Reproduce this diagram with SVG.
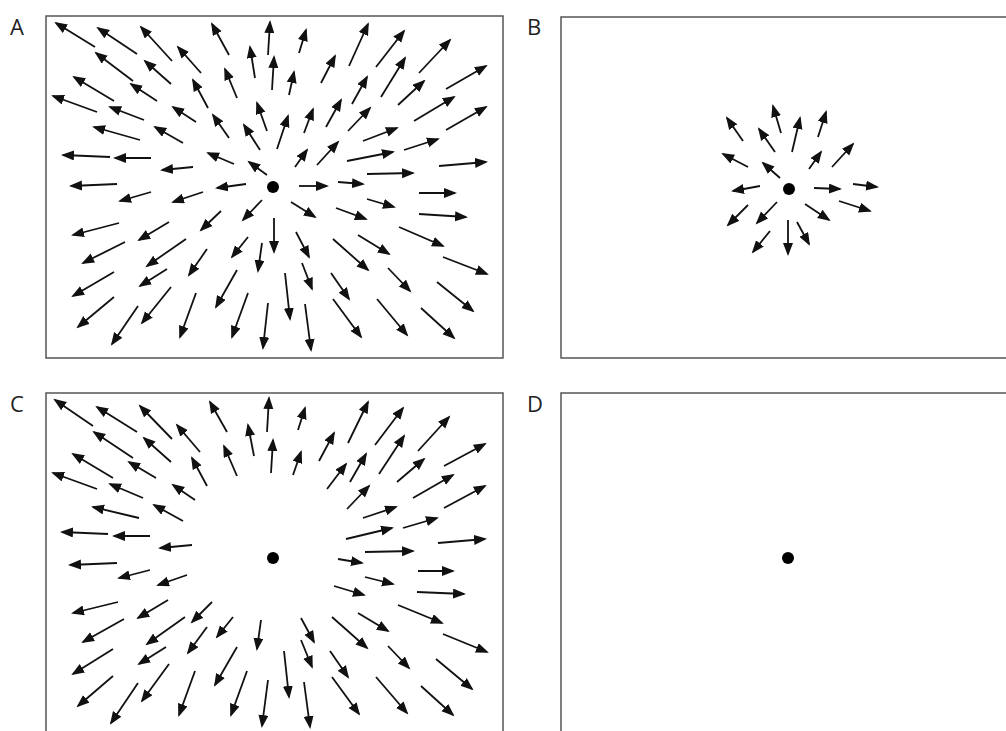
<svg xmlns="http://www.w3.org/2000/svg" width="1006" height="731" viewBox="0 0 1006 731">
<defs>
<marker id="ah" markerUnits="userSpaceOnUse" markerWidth="14" markerHeight="11" refX="11" refY="5" orient="auto">
<path d="M0,0 L13,5 L0,10 Z" fill="#111"/>
</marker>
<style>
.fr{fill:none;stroke:#555;stroke-width:1.5}
.lb{font-family:"Open Sans","Liberation Sans",sans-serif;font-size:22px;fill:#222}
.ar line{stroke:#111;stroke-width:1.8;marker-end:url(#ah)}
.dot{fill:#000}
</style>
</defs>
<rect width="1006" height="731" fill="#fff"/>
<g id="panelA">
<text class="lb" x="10" y="35">A</text>
<rect class="fr" x="46" y="16" width="457" height="342"/>
<circle class="dot" cx="273" cy="187" r="6"/>
<g class="ar" id="arrowsA">
<line x1="95" y1="47" x2="56" y2="23"/><line x1="137" y1="54" x2="98" y2="28"/><line x1="172" y1="61" x2="141" y2="27"/><line x1="229" y1="55" x2="212" y2="24"/><line x1="268" y1="55" x2="270" y2="22"/><line x1="255" y1="78" x2="250" y2="47"/><line x1="272" y1="90" x2="274" y2="57"/><line x1="201" y1="73" x2="178" y2="47"/><line x1="133" y1="81" x2="96" y2="53"/><line x1="171" y1="84" x2="145" y2="61"/><line x1="237" y1="98" x2="225" y2="69"/><line x1="114" y1="101" x2="74" y2="77"/><line x1="157" y1="101" x2="131" y2="84"/><line x1="208" y1="108" x2="193" y2="80"/><line x1="97" y1="112" x2="53" y2="96"/><line x1="144" y1="120" x2="110" y2="107"/><line x1="196" y1="122" x2="173" y2="107"/><line x1="267" y1="131" x2="257" y2="103"/><line x1="229" y1="138" x2="213" y2="115"/><line x1="140" y1="140" x2="94" y2="127"/><line x1="183" y1="143" x2="155" y2="127"/><line x1="260" y1="150" x2="244" y2="125"/><line x1="110" y1="157" x2="63" y2="155"/><line x1="151" y1="158" x2="115" y2="158"/><line x1="234" y1="164" x2="208" y2="153"/><line x1="193" y1="167" x2="162" y2="170"/><line x1="267" y1="175" x2="249" y2="162"/><line x1="117" y1="184" x2="71" y2="186"/><line x1="246" y1="184" x2="217" y2="188"/>
<line x1="299" y1="53" x2="306" y2="30"/><line x1="349" y1="66" x2="368" y2="24"/><line x1="376" y1="67" x2="404" y2="31"/><line x1="419" y1="73" x2="450" y2="40"/><line x1="321" y1="83" x2="335" y2="56"/><line x1="289" y1="95" x2="294" y2="72"/><line x1="352" y1="104" x2="367" y2="77"/><line x1="381" y1="97" x2="405" y2="58"/><line x1="398" y1="105" x2="424" y2="81"/><line x1="446" y1="89" x2="486" y2="66"/><line x1="326" y1="127" x2="341" y2="100"/><line x1="304" y1="133" x2="313" y2="109"/><line x1="348" y1="131" x2="370" y2="108"/><line x1="414" y1="121" x2="454" y2="97"/><line x1="446" y1="130" x2="486" y2="107"/><line x1="277" y1="149" x2="288" y2="116"/><line x1="363" y1="141" x2="397" y2="128"/><line x1="295" y1="167" x2="307" y2="150"/><line x1="317" y1="165" x2="338" y2="142"/><line x1="347" y1="161" x2="393" y2="152"/><line x1="404" y1="150" x2="438" y2="139"/><line x1="439" y1="166" x2="486" y2="162"/><line x1="367" y1="174" x2="413" y2="173"/><line x1="299" y1="186" x2="327" y2="186"/><line x1="338" y1="182" x2="363" y2="184"/>
<line x1="419" y1="193" x2="455" y2="193"/><line x1="367" y1="199" x2="394" y2="207"/><line x1="291" y1="202" x2="315" y2="217"/><line x1="336" y1="208" x2="366" y2="219"/><line x1="419" y1="214" x2="466" y2="217"/><line x1="274" y1="218" x2="274" y2="252"/><line x1="296" y1="232" x2="309" y2="257"/><line x1="333" y1="239" x2="368" y2="270"/><line x1="358" y1="235" x2="389" y2="254"/><line x1="399" y1="227" x2="443" y2="246"/><line x1="443" y1="257" x2="487" y2="274"/><line x1="302" y1="263" x2="312" y2="289"/><line x1="331" y1="273" x2="349" y2="299"/><line x1="388" y1="268" x2="410" y2="291"/><line x1="437" y1="282" x2="473" y2="311"/><line x1="285" y1="273" x2="290" y2="319"/><line x1="305" y1="304" x2="311" y2="350"/><line x1="333" y1="299" x2="361" y2="337"/><line x1="377" y1="299" x2="407" y2="335"/><line x1="421" y1="308" x2="454" y2="338"/>
<line x1="151" y1="192" x2="120" y2="201"/><line x1="203" y1="192" x2="173" y2="202"/><line x1="262" y1="200" x2="243" y2="220"/><line x1="221" y1="211" x2="201" y2="230"/><line x1="119" y1="223" x2="73" y2="235"/><line x1="169" y1="222" x2="139" y2="240"/><line x1="248" y1="237" x2="232" y2="257"/><line x1="262" y1="243" x2="258" y2="271"/><line x1="125" y1="242" x2="83" y2="263"/><line x1="186" y1="239" x2="147" y2="266"/><line x1="207" y1="249" x2="189" y2="275"/><line x1="114" y1="272" x2="73" y2="296"/><line x1="167" y1="269" x2="140" y2="286"/><line x1="237" y1="270" x2="216" y2="307"/><line x1="114" y1="297" x2="78" y2="327"/><line x1="171" y1="287" x2="142" y2="323"/><line x1="138" y1="306" x2="112" y2="344"/><line x1="196" y1="293" x2="180" y2="337"/><line x1="248" y1="293" x2="232" y2="337"/><line x1="268" y1="303" x2="263" y2="348"/>
</g>
</g>
<g id="panelB">
<text class="lb" x="527" y="35">B</text>
<rect class="fr" x="561" y="17" width="460" height="341"/>
<circle class="dot" cx="789" cy="189" r="6"/>
<g class="ar" id="arrowsB">
<line x1="743" y1="141" x2="727" y2="118"/><line x1="781" y1="133" x2="773" y2="106"/><line x1="792" y1="152" x2="800" y2="118"/><line x1="818" y1="137" x2="826" y2="112"/><line x1="775" y1="152" x2="759" y2="129"/><line x1="748" y1="167" x2="723" y2="154"/><line x1="780" y1="178" x2="763" y2="163"/><line x1="809" y1="169" x2="821" y2="152"/><line x1="832" y1="167" x2="853" y2="144"/><line x1="760" y1="186" x2="733" y2="191"/><line x1="814" y1="188" x2="840" y2="189"/><line x1="853" y1="184" x2="877" y2="187"/><line x1="839" y1="201" x2="870" y2="211"/><line x1="805" y1="204" x2="829" y2="220"/><line x1="748" y1="205" x2="728" y2="225"/><line x1="777" y1="202" x2="757" y2="223"/><line x1="788" y1="220" x2="788" y2="254"/><line x1="797" y1="222" x2="809" y2="244"/><line x1="770" y1="231" x2="753" y2="252"/>
</g>
</g>
<g id="panelC">
<text class="lb" x="10" y="412">C</text>
<rect class="fr" x="46" y="393" width="457" height="360"/>
<circle class="dot" cx="273" cy="558" r="6"/>
<g class="ar" id="arrowsC">
<line x1="93" y1="426" x2="55" y2="400"/><line x1="137" y1="432" x2="97" y2="407"/><line x1="172" y1="439" x2="140" y2="406"/><line x1="227" y1="432" x2="210" y2="402"/><line x1="267" y1="432" x2="269" y2="398"/><line x1="254" y1="456" x2="248" y2="425"/><line x1="271" y1="473" x2="273" y2="440"/><line x1="200" y1="452" x2="177" y2="425"/><line x1="133" y1="458" x2="94" y2="432"/><line x1="171" y1="462" x2="144" y2="438"/><line x1="237" y1="476" x2="224" y2="446"/><line x1="113" y1="478" x2="73" y2="454"/><line x1="156" y1="478" x2="129" y2="462"/><line x1="207" y1="486" x2="192" y2="458"/><line x1="97" y1="489" x2="53" y2="473"/><line x1="143" y1="498" x2="110" y2="484"/><line x1="195" y1="500" x2="173" y2="485"/><line x1="139" y1="518" x2="93" y2="507"/><line x1="183" y1="521" x2="154" y2="505"/><line x1="108" y1="534" x2="62" y2="532"/><line x1="150" y1="536" x2="114" y2="536"/><line x1="192" y1="545" x2="160" y2="548"/>
<line x1="298" y1="430" x2="305" y2="408"/><line x1="348" y1="443" x2="368" y2="402"/><line x1="375" y1="445" x2="403" y2="408"/><line x1="418" y1="451" x2="449" y2="417"/><line x1="319" y1="461" x2="334" y2="433"/><line x1="293" y1="475" x2="301" y2="452"/><line x1="327" y1="489" x2="346" y2="464"/><line x1="350" y1="482" x2="366" y2="454"/><line x1="379" y1="474" x2="404" y2="436"/><line x1="397" y1="482" x2="424" y2="459"/><line x1="444" y1="466" x2="485" y2="444"/><line x1="413" y1="498" x2="453" y2="475"/><line x1="444" y1="508" x2="485" y2="486"/><line x1="347" y1="509" x2="369" y2="486"/><line x1="363" y1="518" x2="396" y2="507"/><line x1="346" y1="539" x2="392" y2="528"/><line x1="403" y1="528" x2="437" y2="518"/><line x1="438" y1="543" x2="485" y2="539"/><line x1="365" y1="552" x2="413" y2="551"/>
<line x1="338" y1="559" x2="362" y2="563"/><line x1="418" y1="571" x2="453" y2="571"/><line x1="365" y1="577" x2="393" y2="584"/><line x1="334" y1="586" x2="364" y2="595"/><line x1="417" y1="592" x2="464" y2="594"/><line x1="398" y1="605" x2="442" y2="623"/><line x1="358" y1="613" x2="388" y2="631"/><line x1="332" y1="617" x2="367" y2="648"/><line x1="301" y1="618" x2="314" y2="642"/><line x1="443" y1="634" x2="487" y2="652"/><line x1="301" y1="640" x2="312" y2="667"/><line x1="330" y1="651" x2="348" y2="677"/><line x1="388" y1="646" x2="409" y2="668"/><line x1="436" y1="659" x2="472" y2="689"/><line x1="284" y1="651" x2="289" y2="697"/><line x1="304" y1="682" x2="310" y2="727"/><line x1="332" y1="677" x2="359" y2="714"/><line x1="376" y1="677" x2="407" y2="713"/><line x1="421" y1="686" x2="453" y2="715"/>
<line x1="117" y1="563" x2="70" y2="565"/><line x1="150" y1="570" x2="119" y2="578"/><line x1="187" y1="575" x2="158" y2="585"/><line x1="118" y1="602" x2="73" y2="613"/><line x1="168" y1="600" x2="138" y2="618"/><line x1="212" y1="602" x2="192" y2="622"/><line x1="233" y1="617" x2="217" y2="637"/><line x1="261" y1="620" x2="257" y2="649"/><line x1="124" y1="619" x2="83" y2="642"/><line x1="185" y1="617" x2="147" y2="644"/><line x1="207" y1="627" x2="188" y2="653"/><line x1="113" y1="649" x2="73" y2="674"/><line x1="166" y1="647" x2="139" y2="664"/><line x1="237" y1="647" x2="215" y2="685"/><line x1="113" y1="676" x2="78" y2="706"/><line x1="169" y1="664" x2="142" y2="701"/><line x1="138" y1="683" x2="111" y2="723"/><line x1="195" y1="671" x2="179" y2="715"/><line x1="247" y1="671" x2="231" y2="715"/><line x1="268" y1="680" x2="262" y2="726"/>
</g>
</g>
<g id="panelD">
<text class="lb" x="527" y="412">D</text>
<rect class="fr" x="561" y="393" width="460" height="360"/>
<circle class="dot" cx="788" cy="558" r="6"/>
</g>
</svg>
